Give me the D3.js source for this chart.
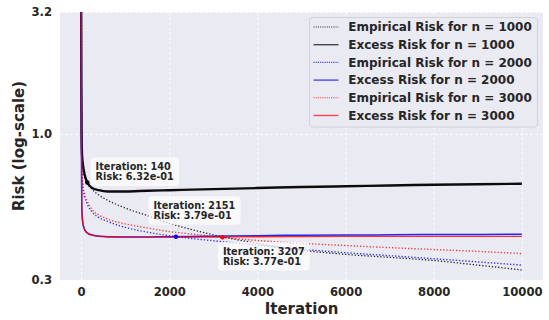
<!DOCTYPE html>
<html>
<head>
<meta charset="utf-8">
<script src="https://cdn.jsdelivr.net/npm/d3@7"></script>
<style>
	body { margin: 0; background: #ffffff; }
	text { font-family: "DejaVu Sans", sans-serif; font-weight: bold; fill: #262626; }
</style>
</head>
<body>
<script>
var iterations = [0, 5, 10, 20, 40, 80, 140, 250, 400, 600, 1000, 1500, 2000, 2500, 3000, 4000, 5000, 6000, 7000, 8000, 9000, 10000];
var empirical1000 = [4.2, 1.6, 1.0, 0.82, 0.74, 0.67, 0.632, 0.593, 0.562, 0.535, 0.497, 0.463, 0.43, 0.406, 0.386, 0.356, 0.334, 0.321, 0.312, 0.303, 0.290, 0.277];
var excess1000 = [4.2, 1.6, 1.0, 0.82, 0.75, 0.68, 0.632, 0.60, 0.588, 0.581, 0.581, 0.585, 0.588, 0.591, 0.594, 0.600, 0.606, 0.610, 0.615, 0.619, 0.622, 0.625];
var empirical2000 = [4.2, 1.4, 0.85, 0.68, 0.60, 0.55, 0.515, 0.478, 0.455, 0.438, 0.414, 0.396, 0.383, 0.373, 0.365, 0.350, 0.337, 0.326, 0.317, 0.308, 0.299, 0.290];
var excess2000 = [4.2, 1.2, 0.65, 0.47, 0.43, 0.405, 0.393, 0.385, 0.381, 0.379, 0.378, 0.378, 0.379, 0.380, 0.381, 0.383, 0.3845, 0.385, 0.386, 0.387, 0.3875, 0.388];
var empirical3000 = [4.2, 1.45, 0.88, 0.70, 0.62, 0.565, 0.53, 0.49, 0.466, 0.448, 0.428, 0.412, 0.398, 0.389, 0.380, 0.366, 0.356, 0.349, 0.342, 0.336, 0.330, 0.3235];
var excess3000 = [4.2, 1.2, 0.65, 0.47, 0.43, 0.405, 0.393, 0.385, 0.381, 0.379, 0.378, 0.378, 0.378, 0.378, 0.378, 0.379, 0.3795, 0.38, 0.38, 0.38, 0.38, 0.38];
var seriesNames = ["Empirical Risk for n = 1000", "Excess Risk for n = 1000", "Empirical Risk for n = 2000", "Excess Risk for n = 2000", "Empirical Risk for n = 3000", "Excess Risk for n = 3000"];
var xTicks = [0, 2000, 4000, 6000, 8000, 10000];
var yTicks = [0.252, 1.0, 3.16];
var noteIters = [140, 2151, 3207];
var noteRisks = [0.632, 0.379, 0.377];

(function () {
	var W = 549, H = 320;
	var pLeft = 60, pRight = 543, pTop = 12, pBottom = 280;

	var svg = d3.select("body")
		.append("svg")
		.attr("width", W)
		.attr("height", H);

	var x = d3.scaleLinear()
		.domain([-480, 10480])
		.range([pLeft, pRight]);
	var y = d3.scaleLog()
		.domain([0.252, 3.16])
		.range([pBottom, pTop]);

	svg.append("rect")
		.attr("x", pLeft)
		.attr("y", pTop)
		.attr("width", pRight - pLeft)
		.attr("height", pBottom - pTop)
		.attr("fill", "#eaeaf2");

	svg.append("clipPath")
		.attr("id", "plotclip")
		.append("rect")
		.attr("x", pLeft)
		.attr("y", pTop)
		.attr("width", pRight - pLeft)
		.attr("height", pBottom - pTop);

	function gridStyle(g) {
		g.select(".domain").remove();
		g.selectAll("line").attr("stroke", "#ffffff").attr("stroke-width", 0.8).attr("stroke-dasharray", "3,2");
	}
	function labelStyle(g) {
		g.select(".domain").remove();
		g.attr("font-family", null).attr("font-size", null);
		g.selectAll("text").attr("font-size", "11.6px").attr("fill", "#262626");
	}

	// grid
	svg.append("g")
		.attr("transform", "translate(0," + pBottom + ")")
		.call(d3.axisBottom(x).tickValues(xTicks).tickSize(-(pBottom - pTop)).tickFormat(""))
		.call(gridStyle);
	svg.append("g")
		.attr("transform", "translate(" + pLeft + ",0)")
		.call(d3.axisLeft(y).tickValues(yTicks).tickSize(-(pRight - pLeft)).tickFormat(""))
		.call(gridStyle);

	// tick labels
	svg.append("g")
		.attr("transform", "translate(0," + pBottom + ")")
		.call(d3.axisBottom(x).tickValues(xTicks).tickSize(0).tickPadding(8).tickFormat(d3.format("d")))
		.call(labelStyle);
	svg.append("g")
		.attr("transform", "translate(" + pLeft + ",0)")
		.call(d3.axisLeft(y).tickValues(yTicks).tickSize(0).tickPadding(8).tickFormat(d3.format(".1f")))
		.call(labelStyle);

	svg.append("text")
		.attr("x", (pLeft + pRight) / 2)
		.attr("y", 314)
		.attr("text-anchor", "middle")
		.attr("font-size", "15px")
		.text("Iteration");
	svg.append("text")
		.attr("transform", "translate(24," + (pTop + pBottom) / 2 + ") rotate(-90)")
		.attr("text-anchor", "middle")
		.attr("font-size", "15px")
		.text("Risk (log-scale)");

	// lines
	var allSeries = [empirical1000, excess1000, empirical2000, excess2000, empirical3000, excess3000];
	var colors = ["#000000", "#000000", "#0000ff", "#0000ff", "#ff0000", "#ff0000"];
	var dotted = [true, false, true, false, true, false];
	var widths = [1.3, 2.4, 1.4, 1.5, 1.4, 1.3];
	var opac = [0.85, 0.95, 0.8, 0.85, 0.75, 0.8];

	var line = d3.line()
		.x(function (d) { return x(d[0]); })
		.y(function (d) { return y(d[1]); })
		.curve(d3.curveMonotoneX);

	var plot = svg.append("g").attr("clip-path", "url(#plotclip)");
	allSeries.forEach(function (s, i) {
		plot.append("path")
			.datum(iterations.map(function (it, j) { return [it, s[j]]; }))
			.attr("d", line)
			.attr("fill", "none")
			.attr("stroke", colors[i])
			.attr("stroke-width", widths[i])
			.attr("stroke-opacity", opac[i])
			.attr("stroke-dasharray", dotted[i] ? "1.3,1.9" : null);
	});

	// crossing markers and notes
	function sci(v) {
		var s = d3.format(".2e")(v);
		return s.replace(/e([+-])(\d)$/, "e$10$2");
	}
	var noteColors = ["#000000", "#0000ff", "#ff0000"];
	var noteOffsets = [[8.3, -12.5], [-22.5, -28], [0.4, 17.2]];
	noteIters.forEach(function (it, i) {
		plot.append("circle")
			.attr("cx", x(it))
			.attr("cy", y(noteRisks[i]))
			.attr("r", 2.2)
			.attr("fill", noteColors[i]);
	});
	noteIters.forEach(function (it, i) {
		var px = x(it) + noteOffsets[i][0];
		var py = y(noteRisks[i]) + noteOffsets[i][1];
		var g = svg.append("g");
		var box = g.append("rect");
		var t = g.append("text")
			.style("font-size", "9.7px");
		t.append("tspan").attr("x", px).attr("y", py).text("Iteration: " + it);
		t.append("tspan").attr("x", px).attr("y", py + 10.4).text("Risk: " + sci(noteRisks[i]));
		var bb = t.node().getBBox();
		box.attr("x", bb.x - 5)
			.attr("y", bb.y - 3.5)
			.attr("width", bb.width + 10)
			.attr("height", bb.height + 7)
			.attr("rx", 4)
			.attr("fill", "#ffffff")
			.attr("fill-opacity", 0.7);
	});

	// legend
	var legend = svg.append("g");
	legend.append("rect")
		.attr("x", 309.5)
		.attr("y", 17.5)
		.attr("width", 228)
		.attr("height", 109.5)
		.attr("rx", 3)
		.attr("fill", "#eaeaf2")
		.attr("fill-opacity", 0.8)
		.attr("stroke", "#cccccc")
		.attr("stroke-width", 0.8);
	seriesNames.forEach(function (name, i) {
		var cy = 27 + i * 17.7;
		legend.append("line")
			.attr("x1", 313.5)
			.attr("x2", 338.5)
			.attr("y1", cy)
			.attr("y2", cy)
			.attr("stroke", colors[i])
			.attr("stroke-opacity", dotted[i] ? 0.75 : 0.7)
			.attr("stroke-width", dotted[i] ? 1.1 : 1.4)
			.attr("stroke-dasharray", dotted[i] ? "1.1,1.1" : null);
		legend.append("text")
			.attr("x", 348.3)
			.attr("y", cy + 4.3)
			.attr("font-size", "12px")
			.text(name);
	});
})();
</script>
</body>
</html>
